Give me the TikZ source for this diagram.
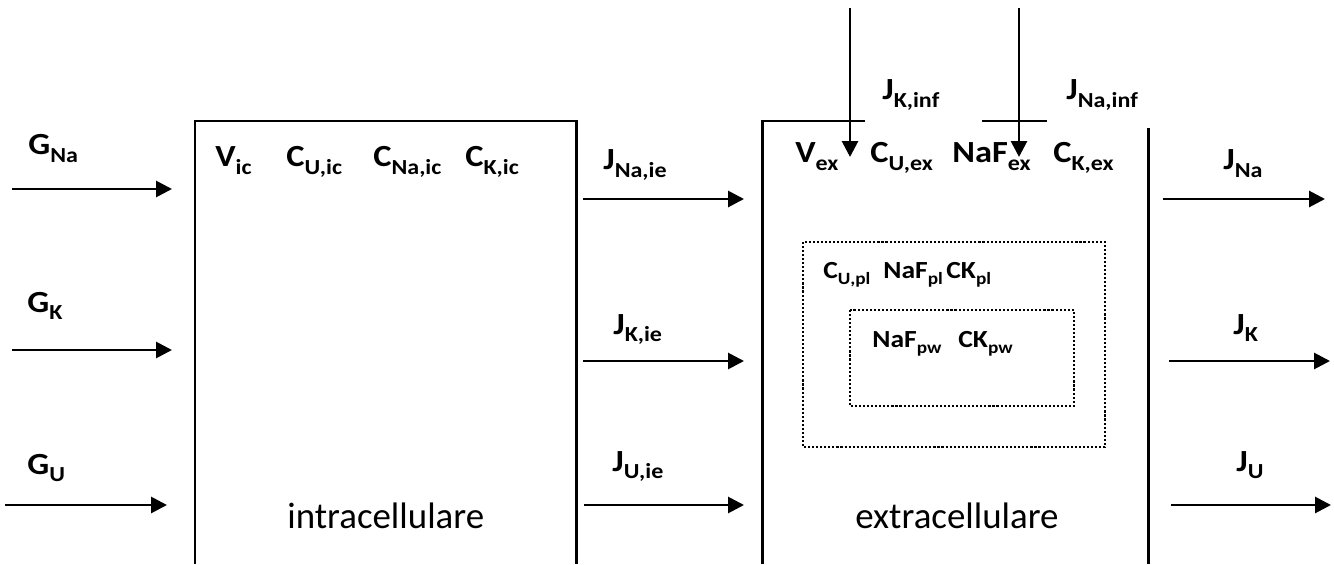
\documentclass[tikz,border=0pt]{standalone}
\usepackage{fontspec}
\setmainfont{Carlito}
\newfontfamily\largo{Carlito}[FakeStretch=1.12]
\usetikzlibrary{arrows.meta, positioning}
\def\pedsize{12.2}
\newcommand{\pedice}[1]{\raisebox{-0.26em}{\fontsize{\pedsize}{\pedsize}\selectfont #1}}
\tikzset{
    etichetta/.style={anchor=base west, inner sep=0pt, font=\largo\fontsize{17.5}{20}\selectfont\bfseries},
    etipiccola/.style={etichetta, font=\largo\fontsize{14}{17}\selectfont\bfseries\def\pedsize{9.8}},
    nome/.style={anchor=base west, inner sep=0pt, font=\fontsize{21}{25}\selectfont},
    freccia/.style={-{Triangle[length=9pt, width=9pt]}, line width=1.6pt},
    parete/.style={line width=1.7pt},
    punteggiata/.style={line width=1.2pt, dash pattern=on 1.2pt off 1.1pt},
}
\begin{document}
\begin{tikzpicture}[x=0.02cm, y=-0.02cm]
\useasboundingbox (0,0) rectangle (1334,564);
% compartimento intracellulare
\draw[parete] (195,564) -- (195,121) -- (576,121) -- (576,564);
\node[etichetta] (vic) at (215,167) {V\pedice{ic}};
\node[etichetta] (cuic) at (286,167) {C\pedice{U,ic}};
\node[etichetta] (cnaic) at (373,167) {C\pedice{Na,ic}};
\node[etichetta] (ckic) at (465,167) {C\pedice{K,ic}};
\node[nome] (intra) at (287,528) {intracellulare};
% compartimento extracellulare
\draw[parete] (762,564) -- (762,121) -- (865,121);
\draw[parete] (982,121) -- (1047,121);
\draw[parete] (1148,128) -- (1148,564);
\node[etichetta] (vex) at (795,163) {V\pedice{ex}};
\node[etichetta] (cuex) at (870,163) {C\pedice{U,ex}};
\node[etichetta] (nafex) at (952,163) {NaF\pedice{ex}};
\node[etichetta] (ckex) at (1053,163) {C\pedice{K,ex}};
\node[nome] (extra) at (855,528) {extracellulare};
% plasma e parete
\draw[punteggiata] (803,242) rectangle (1105,447);
\node[etipiccola] (cupl) at (823,278) {C\pedice{U,pl}};
\node[etipiccola] (nafpl) at (883,278) {NaF\pedice{pl}};
\node[etipiccola] (ckpl) at (946,278) {CK\pedice{pl}};
\draw[punteggiata] (850,310) rectangle (1074,406);
\node[etipiccola] (nafpw) at (872,347) {NaF\pedice{pw}};
\node[etipiccola] (ckpw) at (958,347) {CK\pedice{pw}};
% generazione
\coordinate (gna0) at (12,189);  \coordinate (gna1) at (172,189);
\coordinate (gk0) at (12,350);   \coordinate (gk1) at (172,350);
\coordinate (gu0) at (5,505);    \coordinate (gu1) at (167,505);
\draw[freccia] (gna0) -- (gna1);
\draw[freccia] (gk0) -- (gk1);
\draw[freccia] (gu0) -- (gu1);
\node[etichetta] (gna) at (28,155) {G\pedice{Na}};
\node[etichetta] (gk) at (27,312) {G\pedice{K}};
\node[etichetta] (gu) at (27,474) {G\pedice{U}};
% flussi intra - extra
\coordinate (jnaie0) at (583,199); \coordinate (jnaie1) at (744,199);
\coordinate (jkie0) at (583,361);  \coordinate (jkie1) at (744,361);
\coordinate (juie0) at (584,505);  \coordinate (juie1) at (744,505);
\draw[freccia] (jnaie0) -- (jnaie1);
\draw[freccia] (jkie0) -- (jkie1);
\draw[freccia] (juie0) -- (juie1);
\node[etichetta] (jnaie) at (603,170) {J\pedice{Na,ie}};
\node[etichetta] (jkie) at (613,334) {J\pedice{K,ie}};
\node[etichetta] (juie) at (612,471) {J\pedice{U,ie}};
% flussi in uscita
\coordinate (jna0) at (1163,199); \coordinate (jna1) at (1325,199);
\coordinate (jk0) at (1169,361);  \coordinate (jk1) at (1330,361);
\coordinate (ju0) at (1171,505);  \coordinate (ju1) at (1331,505);
\draw[freccia] (jna0) -- (jna1);
\draw[freccia] (jk0) -- (jk1);
\draw[freccia] (ju0) -- (ju1);
\node[etichetta] (jna) at (1223,170) {J\pedice{Na}};
\node[etichetta] (jk) at (1233,334) {J\pedice{K}};
\node[etichetta] (ju) at (1236,471) {J\pedice{U}};
% infusioni
\coordinate (jkinf0) at (850,8);   \coordinate (jkinf1) at (850,157);
\coordinate (jnainf0) at (1019,8); \coordinate (jnainf1) at (1019,157);
\draw[freccia] (jkinf0) -- (jkinf1);
\draw[freccia] (jnainf0) -- (jnainf1);
\node[etichetta] (jkinf) at (882,100) {J\pedice{K,inf}};
\node[etichetta] (jnainf) at (1066,100) {J\pedice{Na,inf}};
\end{tikzpicture}
\end{document}
